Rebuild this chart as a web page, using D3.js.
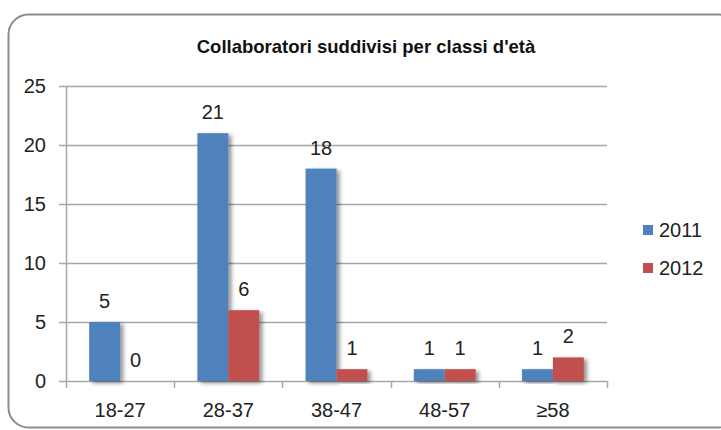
<!DOCTYPE html>
<html>
<head>
<meta charset="utf-8">
<script src="https://cdn.jsdelivr.net/npm/d3@7/dist/d3.min.js"></script>
<style>
  html, body { margin: 0; padding: 0; background: #fff; }
  svg { display: block; font-family: "Liberation Sans", Arial, sans-serif; }
</style>
</head>
<body>
<div id="chart"></div>
<script>
// ── Data ──
const categories = ['18-27', '28-37', '38-47', '48-57', '≥58'];
const seriesNames = ['2011', '2012'];
const values2011 = [5, 21, 18, 1, 1];
const values2012 = [0, 6, 1, 1, 2];
const yTicks = [0, 5, 10, 15, 20, 25];
const seriesColors = ['#4F81BD', '#C0504D'];

const width = 721, height = 430;
const margin = { left: 66, right: 114, top: 86, bottom: 49 };

const svg = d3.select('#chart').append('svg')
  .attr('width', width)
  .attr('height', height);

// Drop shadow for bars
const defs = svg.append('defs');
const shadow = defs.append('filter')
  .attr('id', 'barShadow')
  .attr('x', '-20%').attr('y', '-20%')
  .attr('width', '160%').attr('height', '140%');
shadow.append('feGaussianBlur').attr('in', 'SourceAlpha').attr('stdDeviation', 2);
shadow.append('feOffset').attr('dx', 3).attr('dy', 2).attr('result', 'off');
shadow.append('feComponentTransfer').append('feFuncA').attr('type', 'linear').attr('slope', 0.45);
const merge = shadow.append('feMerge');
merge.append('feMergeNode');
merge.append('feMergeNode').attr('in', 'SourceGraphic');

// Chart frame
svg.append('rect')
  .attr('x', 8.5).attr('y', 14.5)
  .attr('width', 730).attr('height', 413)
  .attr('rx', 20).attr('ry', 20)
  .attr('fill', '#fff')
  .attr('stroke', '#8c8c8c')
  .attr('stroke-width', 2);

// Title
svg.append('text')
  .attr('x', 366).attr('y', 53)
  .attr('text-anchor', 'middle')
  .attr('font-size', '18.5px')
  .attr('font-weight', 'bold')
  .attr('fill', '#111')
  .text("Collaboratori  suddivisi  per classi d'età");

// Scales
const x0 = d3.scaleBand()
  .domain(categories)
  .range([margin.left, width - margin.right])
  .paddingInner(0).paddingOuter(0);

const x1 = d3.scaleBand()
  .domain(seriesNames)
  .range([0, x0.bandwidth()])
  .paddingInner(0).paddingOuter(0.75);

const y = d3.scaleLinear()
  .domain([0, 25])
  .range([height - margin.bottom, margin.top]);

// Gridlines
svg.append('g')
  .selectAll('line')
  .data(yTicks)
  .join('line')
  .attr('x1', margin.left - 7)
  .attr('x2', width - margin.right)
  .attr('y1', d => Math.round(y(d)) + 0.5)
  .attr('y2', d => Math.round(y(d)) + 0.5)
  .attr('stroke', '#a6a6a6')
  .attr('stroke-width', 1.5);

// Y axis line
svg.append('line')
  .attr('x1', margin.left + 0.5).attr('x2', margin.left + 0.5)
  .attr('y1', y(25)).attr('y2', y(0))
  .attr('stroke', '#a6a6a6')
  .attr('stroke-width', 1.5);

// Y tick labels
svg.append('g')
  .selectAll('text')
  .data(yTicks)
  .join('text')
  .attr('x', margin.left - 20)
  .attr('y', d => y(d) + 7)
  .attr('text-anchor', 'end')
  .attr('font-size', '20px')
  .attr('fill', '#222')
  .text(d => d);

// X axis ticks
const xTickPos = categories.map(c => x0(c)).concat([x0.range()[1]]);
svg.append('g')
  .selectAll('line')
  .data(xTickPos)
  .join('line')
  .attr('x1', d => Math.round(d) + 0.5)
  .attr('x2', d => Math.round(d) + 0.5)
  .attr('y1', y(0))
  .attr('y2', y(0) + 7)
  .attr('stroke', '#a6a6a6')
  .attr('stroke-width', 1.5);

// X labels
svg.append('g')
  .selectAll('text')
  .data(categories)
  .join('text')
  .attr('x', d => x0(d) + x0.bandwidth() / 2)
  .attr('y', y(0) + 36)
  .attr('text-anchor', 'middle')
  .attr('font-size', '20px')
  .attr('fill', '#222')
  .text(d => d);

// Bars
const rows = categories.map((c, i) => ({
  category: c,
  values: [values2011[i], values2012[i]]
}));

const groups = svg.append('g')
  .selectAll('g')
  .data(rows)
  .join('g')
  .attr('transform', d => `translate(${x0(d.category)},0)`);

groups.selectAll('rect')
  .data(d => d.values.map((v, j) => ({ series: seriesNames[j], value: v, j })))
  .join('rect')
  .filter(d => d.value > 0)
  .attr('x', d => x1(d.series))
  .attr('y', d => y(d.value))
  .attr('width', x1.bandwidth())
  .attr('height', d => y(0) - y(d.value))
  .attr('fill', d => seriesColors[d.j])
  .style('filter', 'url(#barShadow)');

// Value labels
groups.selectAll('text')
  .data(d => d.values.map((v, j) => ({ series: seriesNames[j], value: v, j })))
  .join('text')
  .attr('x', d => x1(d.series) + x1.bandwidth() / 2)
  .attr('y', d => y(d.value) - 14)
  .attr('text-anchor', 'middle')
  .attr('font-size', '20px')
  .attr('fill', '#222')
  .text(d => d.value);

// Legend
const legend = svg.append('g')
  .attr('transform', 'translate(643, 225)');

seriesNames.forEach((name, i) => {
  const row = legend.append('g')
    .attr('transform', `translate(0, ${i * 38})`);
  row.append('rect')
    .attr('width', 10).attr('height', 10)
    .attr('fill', seriesColors[i]);
  row.append('text')
    .attr('x', 16).attr('y', 12)
    .attr('font-size', '20px')
    .attr('fill', '#222')
    .text(name);
});
</script>
</body>
</html>
